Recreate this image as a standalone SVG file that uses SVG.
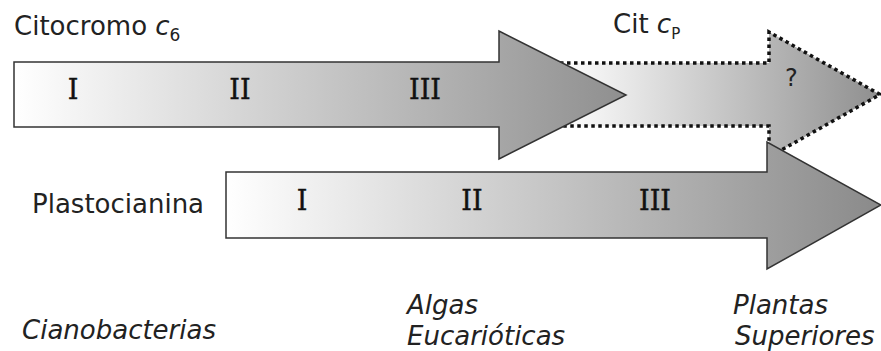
<svg xmlns="http://www.w3.org/2000/svg" width="881" height="351" viewBox="0 0 881 351">
<defs>
<linearGradient id="g1" gradientUnits="userSpaceOnUse" x1="14" y1="0" x2="626" y2="0"><stop offset="0" stop-color="#ffffff"/><stop offset="1" stop-color="#8f8f8f"/></linearGradient>
<linearGradient id="g2" gradientUnits="userSpaceOnUse" x1="560" y1="0" x2="880" y2="0"><stop offset="0" stop-color="#ffffff"/><stop offset="1" stop-color="#8f8f8f"/></linearGradient>
<linearGradient id="g3" gradientUnits="userSpaceOnUse" x1="226" y1="0" x2="881" y2="0"><stop offset="0" stop-color="#ffffff"/><stop offset="1" stop-color="#8a8a8a"/></linearGradient>
</defs>
<style>
.lbl{font-family:"DejaVu Sans",Verdana,sans-serif;font-size:26px;fill:#222}
.it{font-style:italic}
.rom{font-family:"DejaVu Serif","Liberation Serif",serif;font-size:27px;fill:#111;text-anchor:middle;stroke:#111;stroke-width:0.4}
.solid{stroke:#333;stroke-width:1.5;stroke-linejoin:miter}
.dot{stroke:#111;stroke-width:3.5;stroke-dasharray:3.5 3.5;fill:url(#g2)}
</style>
<g id="cit-cp-arrow">
<path class="dot" d="M560,63 L769,63 L769,32 L880,94.5 L769,157 L769,126 L560,126"/>
<text x="785" y="86" class="lbl" style="font-size:24px">?</text>
</g>
<g id="citocromo-arrow">
<path class="solid" fill="url(#g1)" d="M14,62 L499,62 L499,31 L626,95 L499,159 L499,127 L14,127 Z"/>
<text x="73" y="99" class="rom">I</text>
<text x="240" y="99" class="rom">II</text>
<text x="425" y="99" class="rom">III</text>
</g>
<g id="plastocianina-arrow">
<path class="solid" fill="url(#g3)" d="M226,172 L767,172 L767,142 L881,205 L767,269 L767,238 L226,238 Z"/>
<text x="302" y="210" class="rom">I</text>
<text x="472" y="210" class="rom">II</text>
<text x="655" y="210" class="rom">III</text>
</g>
<g id="labels">
<text x="14" y="35" class="lbl">Citocromo <tspan class="it">c</tspan><tspan style="font-size:17px" dy="6">6</tspan></text>
<text x="613" y="33" class="lbl">Cit <tspan class="it">c</tspan><tspan style="font-size:15px" dy="6">P</tspan></text>
<text x="32" y="213" class="lbl">Plastocianina</text>
<text x="22" y="339" class="lbl it">Cianobacterias</text>
<text x="407" y="314" class="lbl it">Algas</text>
<text x="407" y="345" class="lbl it">Eucarióticas</text>
<text x="733" y="314" class="lbl it">Plantas</text>
<text x="735" y="345" class="lbl it">Superiores</text>
</g>
</svg>
